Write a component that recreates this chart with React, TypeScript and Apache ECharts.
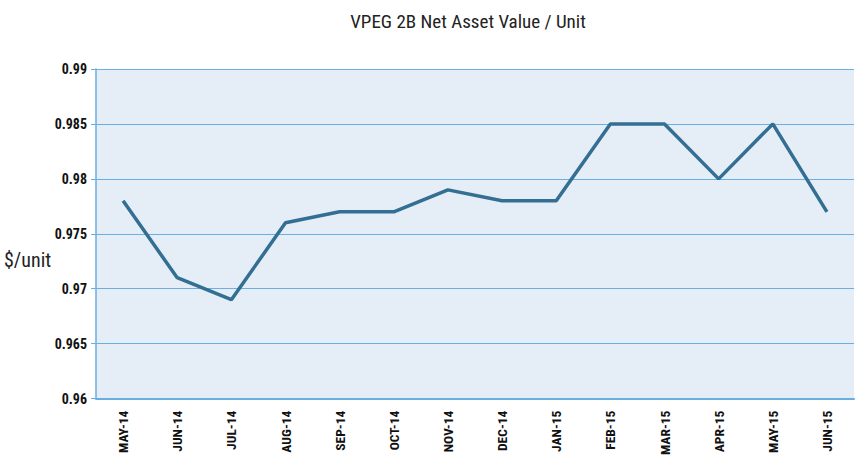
import React, { useEffect, useRef } from "react";
import * as echarts from "echarts";

const categories = ["MAY-14","JUN-14","JUL-14","AUG-14","SEP-14","OCT-14","NOV-14","DEC-14","JAN-15","FEB-15","MAR-15","APR-15","MAY-15","JUN-15"];
const navValues = [0.978,0.971,0.969,0.976,0.977,0.977,0.979,0.978,0.978,0.985,0.985,0.980,0.985,0.977];
const titleText = "VPEG 2B Net Asset Value / Unit";
const yAxisTitle = "$/unit";

export default function App() {
  const ref = useRef<HTMLDivElement>(null);
  useEffect(() => {
    if (!ref.current) return;
    const chart = echarts.init(ref.current, undefined, { renderer: "svg" });
    const narrow = "'Liberation Sans Narrow', 'Roboto Condensed', Arial, sans-serif";
    chart.setOption({
      animation: false,
      backgroundColor: "#ffffff",
      title: {
        text: titleText,
        left: 463,
        textAlign: "center",
        top: 7,
        textStyle: { fontFamily: narrow, fontSize: 19, fontWeight: "normal", color: "#222" },
      },
      graphic: [
        {
          type: "text",
          left: 4,
          top: 250,
          style: { text: yAxisTitle, fontFamily: narrow, fontSize: 20, fill: "#222" },
        },
      ],
      grid: {
        left: 96,
        right: 1,
        top: 69,
        bottom: 59,
        show: true,
        backgroundColor: "#e5edf7",
        borderWidth: 0,
      },
      xAxis: {
        type: "category",
        data: categories,
        boundaryGap: true,
        axisLine: { lineStyle: { color: "#6aaee0", width: 2 } },
        axisTick: { alignWithLabel: true, length: 5, lineStyle: { color: "#6aaee0" } },
        axisLabel: {
          rotate: 90,
          interval: 0,
          margin: 12,
          fontFamily: narrow,
          fontSize: 13.5,
          fontWeight: "bold",
          color: "#111",
        },
      },
      yAxis: {
        type: "value",
        min: 0.96,
        max: 0.99,
        interval: 0.005,
        axisLine: { show: true, lineStyle: { color: "#6aaee0", width: 1.5 } },
        axisTick: { show: true, length: 5, lineStyle: { color: "#6aaee0" } },
        splitLine: { lineStyle: { color: "#6ab0e2", width: 1 } },
        axisLabel: {
          margin: 9,
          fontFamily: narrow,
          fontSize: 14,
          fontWeight: "bold",
          color: "#111",
        },
      },
      series: [
        {
          type: "line",
          data: navValues,
          symbol: "none",
          lineStyle: { color: "#336e93", width: 3.5 },
        },
      ],
    });
    return () => chart.dispose();
  }, []);
  return <div ref={ref} style={{ width: 855, height: 458, position: "absolute", left: 0, top: 0 }} />;
}
